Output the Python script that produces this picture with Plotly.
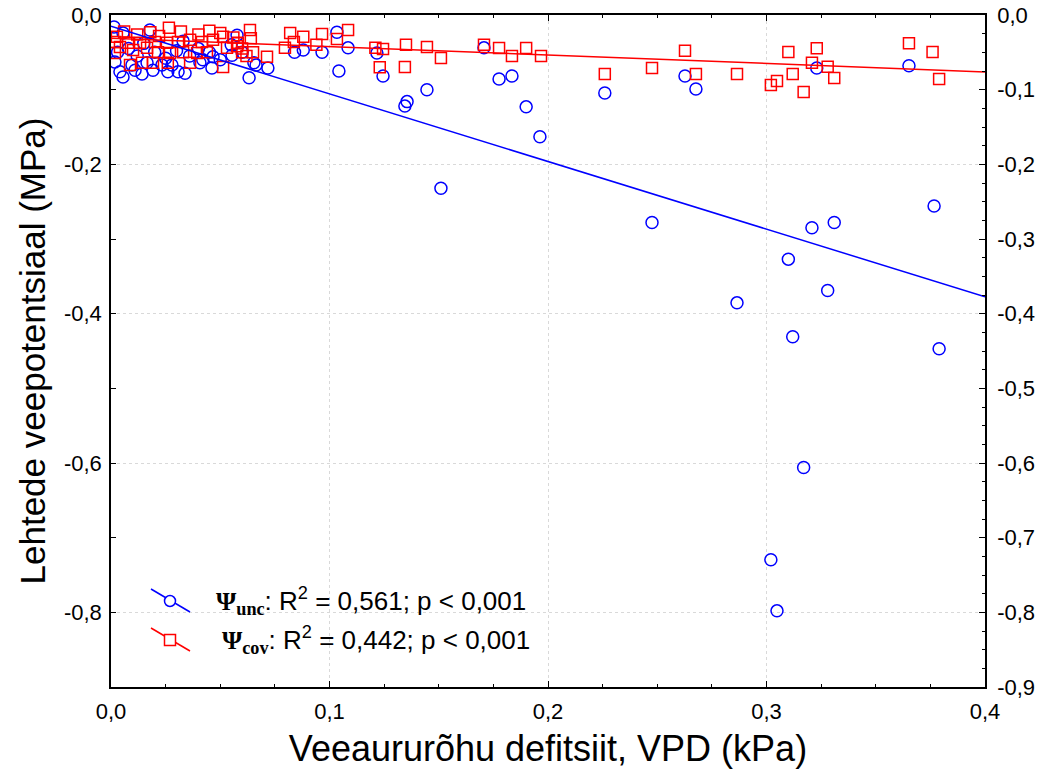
import plotly.graph_objects as go

# ---------------- data ----------------
unc_x = [0.0014, 0.0055, 0.0178, 0.0577, 0.0018, 0.0041, 0.0055, 0.0096, 0.011, 0.0142,
         0.0165, 0.0192, 0.0233, 0.026, 0.0279, 0.0307, 0.0339, 0.0407, 0.0462, 0.0467,
         0.0554, 0.0632, 0.0654, 0.0664, 0.0718,
         0.003, 0.008, 0.012, 0.020, 0.025, 0.030, 0.036, 0.040, 0.045, 0.050, 0.055, 0.060,
         0.015, 0.033, 0.042,
         0.084, 0.088, 0.0966, 0.1034, 0.1085, 0.1043, 0.1217, 0.1245, 0.1345, 0.1355,
         0.1446, 0.151, 0.1707, 0.1776, 0.1835, 0.19, 0.1963, 0.226, 0.2476, 0.2627,
         0.2677, 0.2865, 0.302, 0.3048, 0.310, 0.312, 0.317, 0.3208, 0.323, 0.328,
         0.331, 0.3652, 0.3767, 0.379]
unc_y = [-0.016, -0.024, -0.020, -0.027, -0.063, -0.076, -0.083, -0.067, -0.074, -0.079,
         -0.064, -0.074, -0.067, -0.076, -0.067, -0.076, -0.078, -0.064, -0.071, -0.056,
         -0.054, -0.084, -0.064, -0.067, -0.071,
         -0.050, -0.045, -0.055, -0.050, -0.058, -0.048, -0.055, -0.045, -0.050, -0.060, -0.040, -0.050,
         -0.038, -0.035, -0.060,
         -0.050, -0.047, -0.050, -0.023, -0.044, -0.075, -0.051, -0.0817, -0.122, -0.116,
         -0.100, -0.232, -0.044, -0.0857, -0.0817, -0.123, -0.163, -0.1044, -0.278, -0.0817,
         -0.099, -0.3855, -0.7296, -0.798, -0.327, -0.431, -0.606, -0.285, -0.071, -0.369,
         -0.278, -0.068, -0.2557, -0.447]

cov_x = [0.0265, 0.0027, 0.0078, 0.0133, 0.0201, 0.0256, 0.0307, 0.0362, 0.0416, 0.0467,
         0.0513, 0.0041, 0.0101, 0.0165, 0.0215, 0.027, 0.033, 0.0394, 0.0439, 0.0531,
         0.0581, 0.0087, 0.0142, 0.0192, 0.026, 0.0362, 0.0513, 0.0018, 0.0018,
         0.006, 0.012, 0.018, 0.022, 0.032, 0.040, 0.045, 0.050, 0.056, 0.060, 0.062,
         0.0636, 0.064, 0.058, 0.0577, 0.060, 0.065, 0.0714, 0.0796, 0.082, 0.0837,
         0.088, 0.094, 0.0966, 0.1034, 0.1085, 0.121, 0.123,
         0.1245, 0.135, 0.1345, 0.1446, 0.151, 0.1707, 0.1776, 0.1835, 0.19, 0.1968,
         0.226, 0.2476,
         0.2627, 0.2677, 0.2865, 0.302, 0.3048, 0.310, 0.312, 0.317, 0.3208, 0.323,
         0.328, 0.331, 0.3652, 0.376, 0.379]
cov_y = [-0.017, -0.029, -0.037, -0.037, -0.036, -0.037, -0.036, -0.033, -0.036, -0.033,
         -0.029, -0.043, -0.047, -0.044, -0.050, -0.051, -0.050, -0.051, -0.050, -0.044,
         -0.037, -0.067, -0.064, -0.064, -0.064, -0.064, -0.0696, -0.036, -0.051,
         -0.022, -0.026, -0.023, -0.028, -0.022, -0.026, -0.021, -0.024, -0.030, -0.045, -0.055,
         -0.020, -0.031, -0.038, -0.042, -0.050, -0.050, -0.056, -0.044, -0.024, -0.036,
         -0.029, -0.040, -0.0254, -0.032, -0.020, -0.044, -0.070,
         -0.0455, -0.040, -0.0696, -0.0428, -0.0575, -0.040, -0.0442, -0.0549, -0.0442, -0.0549,
         -0.079, -0.0710,
         -0.048, -0.079, -0.079, -0.0937, -0.0884, -0.0495, -0.079, -0.103, -0.064, -0.0446,
         -0.0692, -0.0843, -0.0379, -0.0495, -0.0857]

# fitted regression lines (intercept, slope) as drawn in the reference
unc_fit = (-0.015, -0.906)
cov_fit = (-0.031, -0.113)
fit_x = [0.0, 0.4]

x_ticks = [0.0, 0.1, 0.2, 0.3, 0.4]
x_ticktext = ["0,0", "0,1", "0,2", "0,3", "0,4"]
y_ticks = [0.0, -0.2, -0.4, -0.6, -0.8]
y_ticktext = ["0,0", "-0,2", "-0,4", "-0,6", "-0,8"]
y2_ticks = [0.0, -0.1, -0.2, -0.3, -0.4, -0.5, -0.6, -0.7, -0.8, -0.9]
y2_ticktext = ["0,0", "-0,1", "-0,2", "-0,3", "-0,4", "-0,5", "-0,6", "-0,7", "-0,8", "-0,9"]

legend_unc = '<span style="font-family:Liberation Serif"><b>Ψ<sub>unc</sub></b></span>: R<sup>2</sup> = 0,561; p &lt; 0,001'
legend_cov = '<span style="font-family:Liberation Serif"><b>Ψ<sub>cov</sub></b></span>: R<sup>2</sup> = 0,442; p &lt; 0,001'

BLUE = "#0000FF"
RED = "#FF0000"
FONT = "Liberation Sans, Arial, sans-serif"
GRID = "#d9d9d9"

fig = go.Figure()

fig.add_trace(go.Scatter(
    x=unc_x, y=unc_y, mode="markers", showlegend=False,
    marker=dict(symbol="circle-open", size=12, color=BLUE, line=dict(width=1.5, color=BLUE))))
fig.add_trace(go.Scatter(
    x=cov_x, y=cov_y, mode="markers", showlegend=False,
    marker=dict(symbol="square-open", size=11, color=RED, line=dict(width=1.5, color=RED))))

fig.add_trace(go.Scatter(
    x=fit_x, y=[unc_fit[0] + unc_fit[1] * v for v in fit_x], mode="lines",
    line=dict(color=BLUE, width=1.5), showlegend=False, hoverinfo="skip"))
fig.add_trace(go.Scatter(
    x=fit_x, y=[cov_fit[0] + cov_fit[1] * v for v in fit_x], mode="lines",
    line=dict(color=RED, width=1.5), showlegend=False, hoverinfo="skip"))

# invisible trace to activate the right-hand axis
fig.add_trace(go.Scatter(x=[None], y=[None], yaxis="y2", mode="markers",
                         showlegend=False, hoverinfo="skip"))

# ---- legend drawn manually (diagonal line symbols like the original) ----
def px_to_paper_x(px):
    return (px - 111) / 874.0

def px_to_paper_y(py):
    return (687 - py) / 672.0

shapes = []
for (cy, color, sym) in [(601, BLUE, "circle"), (640, RED, "rect")]:
    shapes.append(dict(type="line", xref="paper", yref="paper",
                       x0=px_to_paper_x(151), y0=px_to_paper_y(cy - 12),
                       x1=px_to_paper_x(190), y1=px_to_paper_y(cy + 11),
                       line=dict(color=color, width=1.5)))
    shapes.append(dict(type=sym, xref="paper", yref="paper",
                       xsizemode="pixel", ysizemode="pixel",
                       xanchor=px_to_paper_x(170), yanchor=px_to_paper_y(cy),
                       x0=-5.5, x1=5.5, y0=-5.5, y1=5.5,
                       fillcolor="white", line=dict(color=color, width=1.5)))

annotations = [
    dict(text=legend_unc, xref="paper", yref="paper", x=px_to_paper_x(214), y=px_to_paper_y(601),
         xanchor="left", yanchor="middle", showarrow=False,
         font=dict(family=FONT, size=26, color="black")),
    dict(text=legend_cov, xref="paper", yref="paper", x=px_to_paper_x(220), y=px_to_paper_y(640),
         xanchor="left", yanchor="middle", showarrow=False,
         font=dict(family=FONT, size=26, color="black")),
]

fig.update_layout(
    width=1041, height=775,
    margin=dict(l=111, r=56, t=15, b=88, pad=0, autoexpand=False),
    paper_bgcolor="white", plot_bgcolor="white",
    font=dict(family=FONT, color="black"),
    shapes=shapes, annotations=annotations,
    xaxis=dict(
        range=[0, 0.4], tickmode="array", tickvals=x_ticks, ticktext=x_ticktext,
        ticks="inside", ticklen=6, tickwidth=1.2, tickcolor="black",
        minor=dict(tickmode="linear", tick0=0, dtick=0.025, ticks="inside", ticklen=3,
                   tickwidth=1, tickcolor="black", showgrid=False),
        showline=True, linecolor="black", linewidth=1.5, mirror="ticks",
        showgrid=True, gridcolor=GRID, griddash="dot", gridwidth=1,
        zeroline=False, tickfont=dict(family=FONT, size=22, color="black"),
        ticklabelstandoff=4, automargin=False,
        title=dict(text="Veeaururõhu defitsiit, VPD (kPa)",
                   font=dict(family=FONT, size=36, color="black"), standoff=13),
    ),
    yaxis=dict(
        range=[-0.9, 0], tickmode="array", tickvals=y_ticks, ticktext=y_ticktext,
        ticks="inside", ticklen=5, tickwidth=1.2, tickcolor="black",
        minor=dict(tickmode="array", tickvals=[-0.1, -0.3, -0.5, -0.7], ticks="inside",
                   ticklen=5, tickwidth=1, tickcolor="black", showgrid=False),
        showline=True, linecolor="black", linewidth=1.5, mirror=True,
        showgrid=True, gridcolor=GRID, griddash="dot", gridwidth=1,
        zeroline=False, tickfont=dict(family=FONT, size=22, color="black"),
        ticklabelstandoff=3, automargin=False,
        title=dict(text="Lehtede veepotentsiaal (MPa)",
                   font=dict(family=FONT, size=35, color="black"), standoff=8),
    ),
    yaxis2=dict(
        overlaying="y", side="right", range=[-0.9, 0],
        tickmode="array", tickvals=y2_ticks, ticktext=y2_ticktext,
        ticks="inside", ticklen=6, tickwidth=1.2, tickcolor="black",
        minor=dict(tickmode="linear", tick0=0, dtick=0.025, ticks="inside", ticklen=3,
                   tickwidth=1, tickcolor="black", showgrid=False),
        showline=True, linecolor="black", linewidth=1.5,
        showgrid=False, zeroline=False, automargin=False,
        tickfont=dict(family=FONT, size=22, color="black"),
        ticklabelstandoff=6,
    ),
)

fig.write_html("out.html")
